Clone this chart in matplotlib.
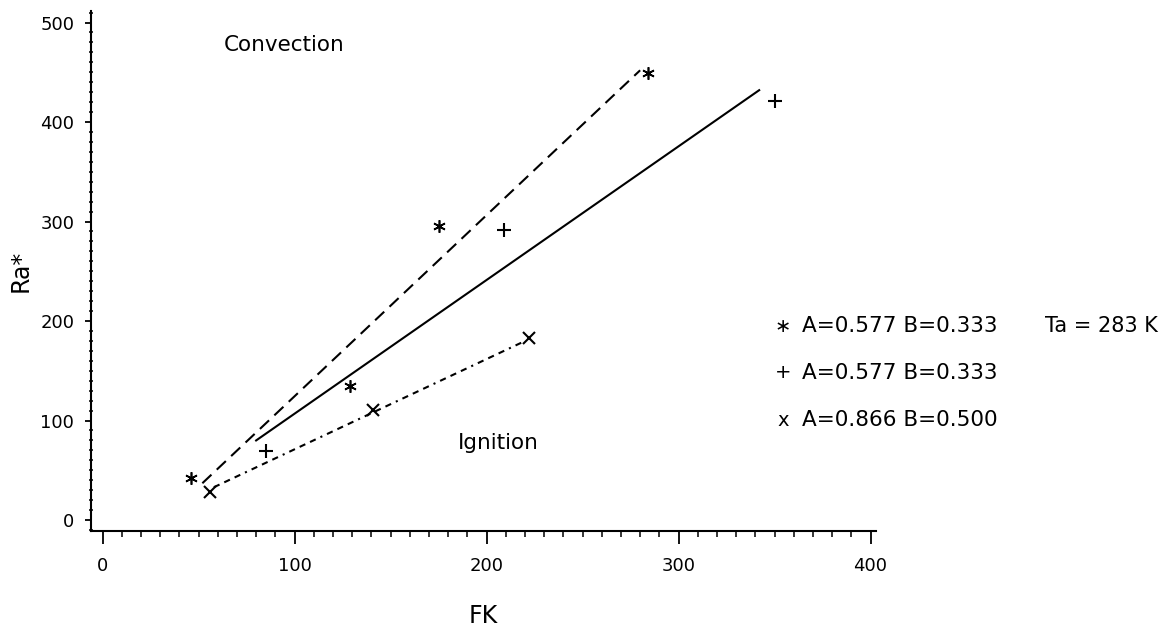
# Gráfico Ra* contra FK: pontos medidos e retas ajustadas para cada conjunto A, B
import numpy as np
import matplotlib.pyplot as plt
from matplotlib.ticker import MultipleLocator

# pontos (FK, Ra*)
star_fk = [46, 129, 175, 284]
star_ra = [42, 135, 296, 449]
plus_fk = [85, 209, 350]
plus_ra = [69, 291, 421]
cross_fk = [56, 141, 222]
cross_ra = [28, 111, 183]

# extremos das retas ajustadas
star_line_fk = [52, 280]
star_line_ra = [37, 452]
plus_line_fk = [80, 342]
plus_line_ra = [80, 432]
cross_line_fk = [58, 219]
cross_line_ra = [33, 179]

# textos da legenda
leg_marks = ['∗', '+', 'x']
leg_texts = ['A=0.577 B=0.333', 'A=0.577 B=0.333', 'A=0.866 B=0.500']
ta_text = 'Ta = 283 K'

plt.rc('font', size=13)
fig = plt.figure(figsize=(11.65, 6.37), dpi=100)
ax = fig.add_axes([0.0781, 0.1664, 0.6741, 0.8170])

# retas
ax.plot(star_line_fk, star_line_ra, color='black', lw=1.5, linestyle=(0, (6, 3.5)))
ax.plot(plus_line_fk, plus_line_ra, color='black', lw=1.5)
ax.plot(cross_line_fk, cross_line_ra, color='black', lw=1.5,
        linestyle=(0, (3, 2.5, 3, 2.5, 3, 2.5, 1, 2.5)))

# pontos
ax.plot(star_fk, star_ra, linestyle='none', marker=(6, 2, 0), ms=9, mew=1.2, color='black')
ax.plot(plus_fk, plus_ra, linestyle='none', marker='+', ms=10, mew=1.5, color='black')
ax.plot(cross_fk, cross_ra, linestyle='none', marker='x', ms=9, mew=1.5, color='black')

# regiões
ax.text(63, 477, 'Convection', fontsize=15.5, va='center', ha='left')
ax.text(185, 77, 'Ignition', fontsize=15.5, va='center', ha='left')

# eixos
ax.set_xlim(-6, 403)
ax.set_ylim(-11, 512)
ax.spines['top'].set_visible(False)
ax.spines['right'].set_visible(False)
ax.spines['left'].set_linewidth(1.5)
ax.spines['bottom'].set_linewidth(1.5)
ax.xaxis.set_major_locator(MultipleLocator(100))
ax.xaxis.set_minor_locator(MultipleLocator(10))
ax.yaxis.set_major_locator(MultipleLocator(100))
ax.yaxis.set_minor_locator(MultipleLocator(10))
ax.tick_params(axis='x', which='major', direction='out', length=9, width=1.3, pad=10)
ax.tick_params(axis='x', which='minor', direction='out', length=4, width=1.1)
ax.tick_params(axis='y', which='major', direction='out', length=4, width=1.3, pad=8)
ax.tick_params(axis='y', which='minor', direction='inout', length=3, width=1.1)

fig.text(483 / 1165, 1 - 616 / 637, 'FK', fontsize=17, ha='center', va='center')
fig.text(21 / 1165, 1 - 271 / 637, 'Ra*', fontsize=17, ha='center', va='center', rotation=90)

# legenda feita com texto
leg_y = [326, 373, 420]
for m, t, y in zip(leg_marks, leg_texts, leg_y):
  fig.text(783 / 1165, 1 - y / 637, m, fontsize=14, ha='center', va='center')
  fig.text(802 / 1165, 1 - y / 637, t, fontsize=15.5, ha='left', va='center')
fig.text(1158 / 1165, 1 - leg_y[0] / 637, ta_text, fontsize=15, ha='right', va='center')

plt.savefig('out.png', dpi=100)
